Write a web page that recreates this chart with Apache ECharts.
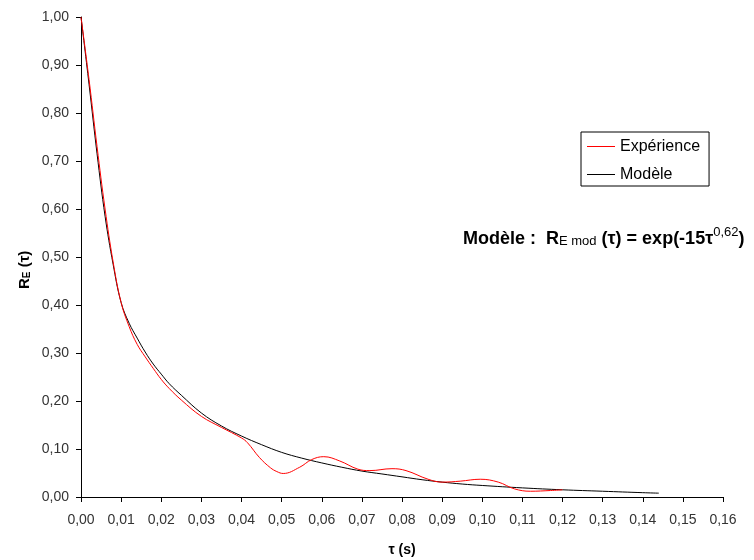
<!DOCTYPE html>
<html>
<head>
<meta charset="utf-8">
<script src="https://cdn.jsdelivr.net/npm/echarts@6/dist/echarts.min.js"></script>
<style>html,body{margin:0;padding:0;background:#fff}#c{width:754px;height:560px}</style>
</head>
<body>
<div id="c"></div>
<script>
// Expérience (tau, R_E)
const expTau = [0, 0.002, 0.004, 0.006, 0.008, 0.010, 0.012, 0.014, 0.016, 0.018, 0.020, 0.022, 0.025, 0.030, 0.035, 0.040, 0.0415, 0.0445, 0.0472, 0.0488, 0.0504, 0.0545, 0.0575, 0.0605, 0.0645, 0.069, 0.072, 0.0775, 0.081, 0.0865, 0.090, 0.0945, 0.0995, 0.104, 0.108, 0.112, 0.117, 0.120];
const expR   = [1.00, 0.87, 0.73, 0.60, 0.49, 0.405, 0.355, 0.318, 0.292, 0.268, 0.245, 0.226, 0.202, 0.168, 0.145, 0.123, 0.113, 0.082, 0.061, 0.053, 0.049, 0.062, 0.078, 0.084, 0.075, 0.058, 0.055, 0.059, 0.055, 0.037, 0.031, 0.033, 0.037, 0.031, 0.017, 0.012, 0.0135, 0.015];
// Modèle (tau, R_E mod)
const modTau = [0, 0.002, 0.004, 0.006, 0.008, 0.010, 0.012, 0.014, 0.016, 0.018, 0.020, 0.022, 0.025, 0.030, 0.035, 0.040, 0.045, 0.050, 0.055, 0.060, 0.065, 0.070, 0.075, 0.080, 0.085, 0.090, 0.095, 0.100, 0.110, 0.120, 0.130, 0.140, 0.144];
const modR   = [1.00, 0.86, 0.715, 0.585, 0.485, 0.405, 0.362, 0.331, 0.302, 0.277, 0.256, 0.236, 0.212, 0.175, 0.148, 0.127, 0.109, 0.093, 0.081, 0.071, 0.062, 0.054, 0.048, 0.042, 0.036, 0.031, 0.027, 0.024, 0.019, 0.015, 0.012, 0.009, 0.008];

const seriesNames = ['Expérience', 'Modèle'];
const xTitle = 'τ (s)';

const fmt = v => v.toFixed(2).replace('.', ',');
const pairs = (a, b) => a.map((t, i) => [t, b[i]]);
const FONT = '"Liberation Sans", Arial, sans-serif';

const chart = echarts.init(document.getElementById('c'), null, {renderer: 'canvas'});
chart.setOption({
  animation: false,
  backgroundColor: '#fff',
  grid: {left: 81, right: 31, top: 17, bottom: 63, containLabel: false, outerBoundsMode: 'none'},
  xAxis: {
    type: 'value', min: 0, max: 0.16, interval: 0.01,
    axisLine: {show: true, lineStyle: {color: '#000', width: 1}},
    axisTick: {show: true, inside: false, length: 5, lineStyle: {color: '#000'}},
    splitLine: {show: false},
    axisLabel: {formatter: fmt, color: '#333', fontFamily: FONT, fontSize: 14, margin: 16},
    name: xTitle, nameLocation: 'middle', nameGap: 46,
    nameTextStyle: {color: '#000', fontFamily: FONT, fontSize: 14, fontWeight: 'bold'}
  },
  yAxis: {
    type: 'value', min: 0, max: 1, interval: 0.1,
    axisLine: {show: true, lineStyle: {color: '#000', width: 1}},
    axisTick: {show: true, inside: false, length: 5, lineStyle: {color: '#000'}},
    splitLine: {show: false},
    axisLabel: {formatter: fmt, color: '#333', fontFamily: FONT, fontSize: 14, margin: 12}
  },
  legend: {
    orient: 'vertical', left: 581, top: 132,
    data: seriesNames,
    borderColor: '#000', borderWidth: 1, borderRadius: 0,
    padding: [5, 9, 2, 6], itemGap: 9, itemWidth: 28, itemHeight: 1,
    icon: 'rect',
    textStyle: {color: '#000', fontFamily: FONT, fontSize: 16, lineHeight: 19}
  },
  graphic: [
    {
      type: 'text', z: 100,
      rotation: Math.PI / 2,
      position: [14, 289],
      style: {
        text: '{a|R}{b|E}{a| (τ)}',
        rich: {
          a: {fontFamily: FONT, fontSize: 15, fontWeight: 'bold', fill: '#000', verticalAlign: 'bottom', lineHeight: 18},
          b: {fontFamily: FONT, fontSize: 10, fontWeight: 'bold', fill: '#000', verticalAlign: 'bottom', lineHeight: 13}
        }
      }
    },
    {
      type: 'text', z: 100,
      position: [463, 226],
      style: {
        text: '{a|Modèle :  R}{b|E mod}{a| (τ) = exp(-15τ}{c|0,62}{a|)}',
        rich: {
          a: {fontFamily: FONT, fontSize: 18, fontWeight: 'bold', fill: '#000', verticalAlign: 'bottom', lineHeight: 22},
          b: {fontFamily: FONT, fontSize: 13, fill: '#000', verticalAlign: 'bottom', lineHeight: 15},
          c: {fontFamily: FONT, fontSize: 13, fill: '#000', verticalAlign: 'top', lineHeight: 12}
        }
      }
    }
  ],
  series: [
    {
      name: seriesNames[0], type: 'line', data: pairs(expTau, expR),
      showSymbol: false, smooth: 0.4, z: 3,
      lineStyle: {color: '#ff0000', width: 1}, itemStyle: {color: '#ff0000'}
    },
    {
      name: seriesNames[1], type: 'line', data: pairs(modTau, modR),
      showSymbol: false, smooth: 0.4, z: 2,
      lineStyle: {color: '#000000', width: 1}, itemStyle: {color: '#000000'}
    }
  ]
});
</script>
</body>
</html>
